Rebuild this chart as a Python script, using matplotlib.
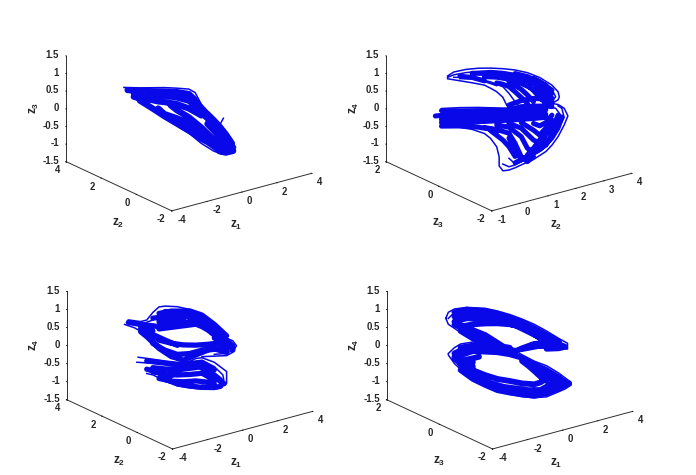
import matplotlib
matplotlib.use('Agg')
import matplotlib.pyplot as plt
from mpl_toolkits.mplot3d import proj3d

plt.rcParams['font.family'] = ['Liberation Sans', 'DejaVu Sans']
plt.rcParams['axes.unicode_minus'] = False
plt.rcParams['mathtext.fontset'] = 'custom'
plt.rcParams['mathtext.rm'] = 'Liberation Sans'
plt.rcParams['mathtext.bf'] = 'Liberation Sans:bold'

n = float('nan')
BLUE = '#0808e8'
DARK = '#303030'
TEXT = '#262626'

z_ticks = [-1.5, -1, -0.5, 0, 0.5, 1, 1.5]
z_labels = ['-1.5', '-1', '-0.5', '0', '0.5', '1', '1.5']

# panel 1: z1, z2, z3 - single strands
p1_thin_x = [-2.12, -1.6, -.8, -.4, 0, .2, .4, .6, .8, 1, 1.2, 1.4, 1.52, 1.44, 1.2, 1, .8, .4, 0, -.4, -.8, -1.2, -1.6, -1.8, n,
             1, 1.2, 1.4, 1.44, 1.2, 1, .8, n,
             1.12, 1, .8]
p1_thin_y = [2.59, 2.2, 1.6, 1.3, 1, .85, .7, .55, .4, .25, .1, -.05, -.14, -.08, .1, .25, .4, .7, 1, 1.3, 1.6, 1.9, 2.2, 2.35, n,
             .25, .1, -.05, -.08, .1, .25, .4, n,
             .16, .25, .4]
p1_thin_z = [.68, .69, .73, .73, .72, .63, .31, .13, -.05, -.23, -.43, -.66, -.87, -1.02, -1.08, -1.06, -1.0, -.80, -.53, -.33, -.12, .08, .29, .39, n,
             -.32, -.53, -.76, -.93, -1.0, -.96, -.86, n,
             -.06, -.26, -.41]

# panel 1: dense bundles
p1_core_x = [-2, -1.6, -1.2, -.8, -.4, 0, .2, .4, .6, .8, 1, 1.2, 1.4, n,
             -1.8, -1.6, -1.2, -.8, -.4, 0, .2, .4, .6, .8, 1, 1.2, 1.4, n,
             -1.8, -1.6, -1.2, -1, -.8, -.4, 0, .4, n,
             -1.6, -1.2, -.8, -.4, 0, .2, .4, .6, .8, 1, 1.2, n,
             -1, -.8, -.4, 0, .4, .6, n,
             -.6, -.4, 0, .4, .6, .8, 1, 1.2, n,
             .6, .8, 1, 1.2, n,
             .6, .8, 1, 1.2, 1.4, n,
             1, 1.2, 1.4, 1.44, 1.2, 1]
p1_core_y = [2.5, 2.2, 1.9, 1.6, 1.3, 1, .85, .7, .55, .4, .25, .1, -.05, n,
             2.35, 2.2, 1.9, 1.6, 1.3, 1, .85, .7, .55, .4, .25, .1, -.05, n,
             2.35, 2.2, 1.9, 1.75, 1.6, 1.3, 1, .7, n,
             2.2, 1.9, 1.6, 1.3, 1, .85, .7, .55, .4, .25, .1, n,
             1.75, 1.6, 1.3, 1, .7, .55, n,
             1.45, 1.3, 1, .7, .55, .4, .25, .1, n,
             .55, .4, .25, .1, n,
             .55, .4, .25, .1, -.05, n,
             .25, .1, -.05, -.08, .1, .25]
p1_core_z = [.61, .61, .61, .62, .62, .58, .42, .19, .01, -.18, -.38, -.60, -.83, n,
             .54, .51, .50, .50, .47, .39, .25, .07, -.08, -.29, -.51, -.72, -.93, n,
             .43, .40, .36, .33, .32, .28, .17, -.01, n,
             .33, .13, -.08, -.27, -.46, -.56, -.67, -.75, -.86, -.98, -1.01, n,
             .13, -.02, -.12, -.25, -.52, -.68, n,
             .24, .11, -.08, -.35, -.51, -.67, -.82, -.94, n,
             -.24, -.41, -.59, -.81, n,
             .04, -.12, -.30, -.51, -.76, n,
             -.75, -.85, -.95, -.97, -1.03, -1.0]

# panel 2: z2, z3, z4 - single strands
p2_thin_x = [.25, .375, .625, .875, 1.125, 1.375, 1.625, 1.875, 2.125, 2.375, 2.5, 2.525, 2.5, 2.375, 2.25, n,
             .25, .375, .625, .875, 1.125, 1.375, 1.625, 1.875, 2.125, 2.375, 2.45, 2.375, 2.25, n,
             .25, .5, .75, 1, 1.125, 1.25, 1.375, 1.45, 1.5, n,
             .375, .625, .875, 1.125, 1.375, 1.5, 1.625, 1.75, n,
             .125, .5, .875, 1.25, 1.5, n,
             .125, .5, .75, 1, 1.125, 1.25, 1.3, 1.3, 1.03, 1.15, 1.625, 1.75, 2, 2.25, 2.375, 2.5, 2.625, 2.7, 2.625, 2.5, 2.375, n,
             1.375, 1.5, 1.625, 1.875, 2.125, 2.25, 2.375, 2.5, 2.625, 2.575, 2.5, n,
             1.5, 1.625, 1.75, 2, 2.25, 2.5, 2.55, 2.45, 2.25, n,
             .5, .75, 1, 1.25]
p2_thin_y = [1, .9, .7, .5, .3, .1, -.1, -.3, -.5, -.7, -.8, -.82, -.8, -.7, -.6, n,
             1, .9, .7, .5, .3, .1, -.1, -.3, -.5, -.7, -.76, -.7, -.6, n,
             1, .8, .6, .4, .3, .2, .1, .04, 0, n,
             .9, .7, .5, .3, .1, 0, -.1, -.2, n,
             1.1, .8, .5, .2, 0, n,
             1.1, .8, .6, .4, .3, .2, .16, .16, -.27, -.37, -.1, -.2, -.4, -.6, -.7, -.8, -.9, -.96, -.9, -.8, -.7, n,
             .1, 0, -.1, -.3, -.5, -.6, -.7, -.8, -.9, -.86, -.8, n,
             0, -.1, -.2, -.4, -.6, -.8, -.84, -.76, -.6, n,
             .8, .6, .4, .2]
p2_thin_z = [1.01, 1.13, 1.22, 1.27, 1.29, 1.29, 1.27, 1.21, 1.09, .89, .71, .57, .48, .37, .31, n,
             .97, 1.05, 1.13, 1.18, 1.22, 1.21, 1.17, 1.10, .96, .75, .57, .42, .35, n,
             .93, .89, .85, .80, .72, .63, .48, .27, .17, n,
             .98, .99, .97, .90, .78, .60, .37, .19, n,
             .08, .13, .16, .17, .17, n,
             -.43, -.43, -.47, -.57, -.70, -.93, -1.21, -1.47, -1.40, -1.37, -1.50, -1.41, -1.24, -1.0, -.81, -.56, -.22, .04, .25, .35, .37, n,
             -1.41, -1.48, -1.42, -1.22, -1.01, -.86, -.66, -.37, -.01, .25, .31, n,
             -1.24, -1.39, -1.32, -1.11, -.72, -.18, .06, .24, .27, n,
             .95, .96, .90, .80]

# panel 2: dense bundles
p2_core_x = [1, 1.25, 1.5, 1.75, 2, 2.25, 2.375, n,
             .75, 1, 1.25, 1.5, 1.75, 2, 2.25, 2.375, n,
             1.25, 1.375, 1.5, 1.625, 1.75, 1.875, n,
             1.5, 1.75, 1.875, 2, n,
             1.625, 1.875, 2, 2.125, 2.25, n,
             1.875, 2.125, 2.25, 2.375, n,
             2, 2.25, 2.375, n,
             .5, .75, 1, n,
             .125, .5, 1, 1.5, 1.75, 2, 2.25, 2.375, n,
             0, .25, .5, 1, 1.5, 1.75, 2, 2.25, n,
             .125, .5, 1, 1.5, 1.75, 2, 2.25, n,
             .125, .5, 1, 1.5, 1.75, 2, 2.25, n,
             .125, .5, .875, 1.125, 1.25, n,
             1.5, 1.75, 2, 2.25, n,
             1, 1.25, 1.5, 1.625, 1.75, 1.875, 2, n,
             1.25, 1.5, 1.75, 1.875, 2, 2.125, 2.25, n,
             1.5, 1.75, 2, 2.125, 2.25, 2.375, n,
             1.75, 2, 2.125, 2.25, 2.375, n,
             2, 2.125, 2.25, 2.375, n,
             1.125, 1.375, 1.5, 1.625, n,
             1.5, 1.625, 1.75, n,
             1.875, 2, 2.125, 2.25, 2.375, n,
             2.125, 2.25, 2.375, 2.5, n,
             2.375, 2.5, n,
             1.625, 1.875, 2.125, 2.375, n,
             1.625, 1.875, 2.125, 2.25, 2.375, 2.5, 2.575]
p2_core_y = [.4, .2, 0, -.2, -.4, -.6, -.7, n,
             .6, .4, .2, 0, -.2, -.4, -.6, -.7, n,
             .2, .1, 0, -.1, -.2, -.3, n,
             0, -.2, -.3, -.4, n,
             -.1, -.3, -.4, -.5, -.6, n,
             -.3, -.5, -.6, -.7, n,
             -.4, -.6, -.7, n,
             .8, .6, .4, n,
             1.1, .8, .4, 0, -.2, -.4, -.6, -.7, n,
             1.2, 1, .8, .4, 0, -.2, -.4, -.6, n,
             1.1, .8, .4, 0, -.2, -.4, -.6, n,
             1.1, .8, .4, 0, -.2, -.4, -.6, n,
             1.1, .8, .5, .3, .2, n,
             0, -.2, -.4, -.6, n,
             .4, .2, 0, -.1, -.2, -.3, -.4, n,
             .2, 0, -.2, -.3, -.4, -.5, -.6, n,
             0, -.2, -.4, -.5, -.6, -.7, n,
             -.2, -.4, -.5, -.6, -.7, n,
             -.4, -.5, -.6, -.7, n,
             .3, .1, 0, -.1, n,
             0, -.1, -.2, n,
             -.3, -.4, -.5, -.6, -.7, n,
             -.5, -.6, -.7, -.8, n,
             -.7, -.8, n,
             -.1, -.3, -.5, -.7, n,
             -.1, -.3, -.5, -.6, -.7, -.8, -.86]
p2_core_z = [1.04, 1.04, 1.0, .90, .75, .54, .39, n,
             1.12, 1.13, 1.15, 1.13, 1.04, .92, .70, .52, n,
             .88, .85, .79, .65, .50, .34, n,
             .93, .73, .58, .40, n,
             1.06, .86, .71, .53, .37, n,
             1.02, .83, .65, .45, n,
             1.06, .88, .66, n,
             1.02, 1.0, .92, n,
             .02, .04, .08, .13, .24, .27, .29, .28, n,
             -.14, -.09, -.07, -.02, .03, .10, .14, .18, n,
             -.23, -.18, -.11, -.06, -.03, .02, .06, n,
             -.32, -.29, -.23, -.16, -.12, -.08, -.03, n,
             -.42, -.39, -.40, -.44, -.50, n,
             .27, .41, .49, .48, n,
             -.40, -.44, -.53, -.81, -1.18, -1.31, -1.16, n,
             -.31, -.36, -.61, -.93, -1.05, -.92, -.67, n,
             -.25, -.37, -.69, -.77, -.53, -.29, n,
             -.21, -.41, -.54, -.34, -.10, n,
             -.22, -.28, -.18, .04, n,
             -.48, -.73, -.91, -1.18, n,
             -.67, -1.0, -1.25, n,
             -1.12, -.92, -.68, -.44, -.19, n,
             -.94, -.81, -.52, -.14, n,
             -.38, .05, n,
             1.17, 1.10, .96, .75, n,
             -1.36, -1.16, -.95, -.80, -.60, -.31, .0]

# panel 3: z1, z2, z4 - single strands
p3_thin_x = [-2, -1.6, -1.4, -1.2, -1, -.8, -.4, 0, .4, .8, 1.2, 1.4, 1.52, 1.4, 1.2, .8, .4, n,
             -2.12, -1.8, -1.4, -1, -.6, -.4, n,
             -2, -1.6, -1.2, -.8, -.4, 0, .4, .8, 1.2, 1.4, 1.2, .8, n,
             -1.68, -1.4, -.8, -.4, 0, .2, .4, .8, 1.2, 1.2, 1, .8, .4, 0, -.4, -.8, -1.2, -1.4, n,
             -1.72, -1.2, -.8, -.4, 0, .4, .8, 1.08, 1.12, 1, .8, .4]
p3_thin_y = [2.5, 2.2, 2.05, 1.9, 1.75, 1.6, 1.3, 1, .7, .4, .1, -.05, -.14, -.05, .1, .4, .7, n,
             2.59, 2.35, 2.05, 1.75, 1.45, 1.3, n,
             2.5, 2.2, 1.9, 1.6, 1.3, 1, .7, .4, .1, -.05, .1, .4, n,
             2.26, 2.05, 1.6, 1.3, 1, .85, .7, .4, .1, .1, .25, .4, .7, 1, 1.3, 1.6, 1.9, 2.05, n,
             2.29, 1.9, 1.6, 1.3, 1, .7, .4, .19, .16, .25, .4, .7]
p3_thin_z = [.79, .76, .81, 1.03, 1.19, 1.22, 1.22, 1.16, .98, .72, .41, .35, .22, .03, -.07, -.10, -.13, n,
             .66, .58, .41, .15, -.13, -.26, n,
             .70, .68, .82, 1.07, 1.08, 1.05, .84, .58, .27, .09, -.01, -.05, n,
             -.23, -.25, -.30, -.32, -.27, -.19, -.16, -.27, -.51, -.84, -.97, -1.01, -1.03, -1.01, -.97, -.85, -.70, -.67, n,
             -.37, -.38, -.39, -.35, -.29, -.23, -.39, -.61, -.81, -.89, -.93, -.92]

# panel 3: dense bundles
p3_core_x = [-2, -1.6, -1.2, -1, -.8, -.4, 0, .4, .8, 1.2, 1.4, n,
             -1.2, -.8, -.4, 0, .4, .8, 1.2, 1.4, n,
             -1, -.6, 0, .4, .8, 1.2, n,
             -1, -.6, -.2, .2, .4, .6, 1, 1.2, n,
             -1, -.6, -.2, n,
             -1.2, -1, -.6, -.2, .2, .6, .8, 1, 1.2, n,
             -1.6, -1.2, n,
             -1.6, -1.4, -1, -.6, -.2, .2, .6, 1, n,
             -1.2, -.8, -.4, 0, .4, .8, 1.2, n,
             -1.4, -.8, -.4, 0, .4, .8, n,
             -1.2, -.8, -.4, 0, .4, .8, 1, n,
             -1.2, -.8, -.4, 0, .4, .8, n,
             -1, -.6, -.2, .2, .6, .8, n,
             -.8, -.4, 0, .4, .8, 1.2, 1.4, n,
             .4, .8, 1, 1.12, n,
             1, .8, .4, 0, -.4, -.8, n,
             -1.4, -1, -.6, n,
             -1.4, -1.2, -.8, -.4, n,
             .8, 1.2, 1.4]
p3_core_y = [2.5, 2.2, 1.9, 1.75, 1.6, 1.3, 1, .7, .4, .1, -.05, n,
             1.9, 1.6, 1.3, 1, .7, .4, .1, -.05, n,
             1.75, 1.45, 1, .7, .4, .1, n,
             1.75, 1.45, 1.15, .85, .7, .55, .25, .1, n,
             1.75, 1.45, 1.15, n,
             1.9, 1.75, 1.45, 1.15, .85, .55, .4, .25, .1, n,
             2.2, 1.9, n,
             2.2, 2.05, 1.75, 1.45, 1.15, .85, .55, .25, n,
             1.9, 1.6, 1.3, 1, .7, .4, .1, n,
             2.05, 1.6, 1.3, 1, .7, .4, n,
             1.9, 1.6, 1.3, 1, .7, .4, .25, n,
             1.9, 1.6, 1.3, 1, .7, .4, n,
             1.75, 1.45, 1.15, .85, .55, .4, n,
             1.6, 1.3, 1, .7, .4, .1, -.05, n,
             .7, .4, .25, .16, n,
             .25, .4, .7, 1, 1.3, 1.6, n,
             2.05, 1.75, 1.45, n,
             2.05, 1.9, 1.6, 1.3, n,
             .4, .1, -.05]
p3_core_z = [.72, .68, .66, .64, .70, .76, .82, .75, .53, .22, .12, n,
             .87, .93, .97, .96, .88, .67, .36, .21, n,
             1.01, 1.09, 1.12, 1.02, .78, .48, n,
             .58, .64, .70, .76, .70, .61, .35, .18, n,
             .78, .84, .91, n,
             .39, .27, .20, .17, .18, .22, .25, .26, .09, n,
             .57, .52, n,
             .48, .35, .04, -.17, -.25, -.09, .06, .12, n,
             .17, .00, -.10, -.06, .05, .10, .02, n,
             -.32, -.36, -.39, -.36, -.29, -.48, n,
             -.50, -.52, -.53, -.47, -.41, -.62, -.75, n,
             -.61, -.67, -.67, -.64, -.59, -.76, n,
             -.79, -.85, -.85, -.81, -.83, -.86, n,
             1.07, 1.08, 1.05, .84, .58, .27, .09, n,
             -.45, -.65, -.8, -.85, n,
             -.93, -.97, -.98, -.96, -.92, -.80, n,
             -.55, -.63, -.7, n,
             .50, .42, .28, .15, n,
             .40, .30, .15]

# panel 4: z1, z3, z4 - single strands
p4_thin_x = [-2.08, -2, -1.8, -1.4, -.8, -.4, 0, .4, .8, 1.2, 1.6, 1.88, 1.88, 1.6, 1.2, .8, .4, 0, -.4, -.8, -1.2, -1.6, -2, -2.08, n,
             -2, -1.8, -1.4, -.8, -.4, 0, .4, .8, 1.2, 1.6, 1.8, 1.6, 1.2, n,
             -2, -1.8, -1.6, -1.2, -.8, -.4, n,
             -2, -1.8, -1.4, -1, -.6, 0, .4, .8, 1.2, 1.4, 1.8, 2, 2, 1.6, 1.2, .8, .4, .2, n,
             -1.6, -1.2, -.8, -.4, 0, .4, .8, 1.2, 1.6, 1.8, 1.6, 1.2, .8]
p4_thin_y = [1.04, 1, .9, .7, .4, .2, 0, -.2, -.4, -.6, -.8, -.94, -.94, -.8, -.6, -.4, -.2, 0, .2, .4, .6, .8, 1, 1.04, n,
             1, .9, .7, .4, .2, 0, -.2, -.4, -.6, -.8, -.9, -.8, -.6, n,
             1, .9, .8, .6, .4, .2, n,
             1, .9, .7, .5, .3, 0, -.2, -.4, -.6, -.7, -.9, -1, -1, -.8, -.6, -.4, -.2, -.1, n,
             .8, .6, .4, .2, 0, -.2, -.4, -.6, -.8, -.9, -.8, -.6, -.4]
p4_thin_z = [.83, 1.00, 1.10, 1.16, 1.16, 1.10, 1.02, .91, .78, .61, .42, .30, .14, .13, .18, .16, .08, -.03, -.02, .10, .27, .46, .67, .83, n,
             .83, 1.01, 1.10, 1.08, 1.03, .93, .82, .67, .50, .33, .23, .19, .24, n,
             -.14, .03, .14, .21, .21, .11, n,
             -.18, -.41, -.71, -.93, -1.07, -1.19, -1.24, -1.25, -1.21, -1.13, -.97, -.85, -.78, -.54, -.35, -.24, -.08, .02, n,
             -.58, -.81, -.96, -1.09, -1.14, -1.17, -1.20, -1.11, -.96, -.84, -.66, -.47, -.33]

# panel 4: dense bundles
p4_core_x = [-1.8, -1.4, -1, -.6, -.2, .2, .6, 1, 1.4, 1.6, 1.4, 1, n,
             -1.8, -1.4, -1, -.6, -.2, .2, .6, 1, 1.2, 1.4, n,
             -1.6, -1.2, -.8, -.4, 0, .4, .8, 1, 1.2, 1, .8, .4, n,
             -1.8, -1.4, -1.2, -.8, -.4, 0, .2, .4, .8, 1, n,
             -1.6, -1.2, -.8, -.6, -.4, -.2, 0, n,
             -1.8, -1.4, -1, -.6, -.2, n,
             -1.6, -1.2, -.8, -.4, 0, .4, .8, 1.2, 1.4, 1.6, n,
             -1.6, -1.2, -1, n,
             .4, .6, .8, 1, 1.2, n,
             -1.4, -1.2, n,
             -1.6, -1.2, -.8, -.4, 0, .4, .8, 1, 1.2, n,
             -1.4, -1, -.6, -.2, .2, .6, 1, 1.2, 1.4, 1.6, n,
             1.2, 1.4, 1.6, n,
             -1.8, -1.4, n,
             -1.8, -1.4, -.8, -.4, 0, .4, .8, 1.2, 1.6, n,
             1.2, 1.6, 1.8, 1.6, 1.2, n,
             -1.6, -1.2, -.8, -.4, 0, n,
             -1.6, -1.2, -.8, -.4, 0, .4, .8, 1.2, 1.6, 1.8, 1.6, 1.2, .8, n,
             -1.8, -1.6, -1.4, -1.2, n,
             -1.6, -1.2, -.8, n,
             1.4, 1.8, 1.92, n,
             .8, 1.2, 1.6, 1.8]
p4_core_y = [.9, .7, .5, .3, .1, -.1, -.3, -.5, -.7, -.8, -.7, -.5, n,
             .9, .7, .5, .3, .1, -.1, -.3, -.5, -.6, -.7, n,
             .8, .6, .4, .2, 0, -.2, -.4, -.5, -.6, -.5, -.4, -.2, n,
             .9, .7, .6, .4, .2, 0, -.1, -.2, -.4, -.5, n,
             .8, .6, .4, .3, .2, .1, 0, n,
             .9, .7, .5, .3, .1, n,
             .8, .6, .4, .2, 0, -.2, -.4, -.6, -.7, -.8, n,
             .8, .6, .5, n,
             -.2, -.3, -.4, -.5, -.6, n,
             .7, .6, n,
             .8, .6, .4, .2, 0, -.2, -.4, -.5, -.6, n,
             .7, .5, .3, .1, -.1, -.3, -.5, -.6, -.7, -.8, n,
             -.6, -.7, -.8, n,
             .9, .7, n,
             .9, .7, .4, .2, 0, -.2, -.4, -.6, -.8, n,
             -.6, -.8, -.9, -.8, -.6, n,
             .8, .6, .4, .2, 0, n,
             .8, .6, .4, .2, 0, -.2, -.4, -.6, -.8, -.9, -.8, -.6, -.4, n,
             .9, .8, .7, .6, n,
             .8, .6, .4, n,
             -.7, -.9, -.96, n,
             -.4, -.6, -.8, -.9]
p4_core_z = [.89, 1.00, 1.01, .98, .91, .80, .68, .54, .39, .29, .21, .19, n,
             .75, .86, .87, .84, .80, .72, .57, .42, .32, .27, n,
             .62, .70, .74, .76, .75, .70, .50, .40, .27, .20, .16, .08, n,
             .67, .53, .40, .24, .11, .04, .02, .10, .24, .26, n,
             .66, .54, .42, .32, .22, .12, .10, n,
             -.13, .05, .09, .08, .03, n,
             -.17, -.04, -.04, -.04, -.08, -.16, -.35, -.61, -.74, -.82, n,
             -.33, -.24, -.19, n,
             -.25, -.37, -.51, -.66, -.77, n,
             -.48, -.35, n,
             -.44, -.57, -.69, -.78, -.82, -.87, -.88, -.82, -.70, n,
             -.62, -.79, -.91, -.99, -1.02, -1.05, -1.03, -.93, -.83, -.73, n,
             -1.02, -.95, -.85, n,
             -.27, -.53, n,
             1.01, 1.10, 1.08, 1.03, .93, .82, .67, .50, .33, n,
             .36, .26, .20, .15, .12, n,
             .50, .31, .14, .03, .0, n,
             -.58, -.81, -.96, -1.09, -1.14, -1.17, -1.20, -1.11, -.96, -.84, -.66, -.47, -.33, n,
             -.22, -.35, -.44, -.47, n,
             .04, .11, .10, n,
             -1.01, -.86, -.80, n,
             -.48, -.59, -.68, -.77]


def put(ax, x, y, z, text, dx, dy, **kw):
    # text placed at a 3D position, with an offset in pixels
    x2, y2, _ = proj3d.proj_transform(x, y, z, ax.get_proj())
    ax.annotate(text, (x2, y2), xytext=(dx * 0.72, -dy * 0.72), textcoords='offset points',
                ha=kw.pop('ha', 'center'), va='center', color=TEXT, annotation_clip=False, **kw)


def panel(left, bottom, size, z_len, thin, core, lw, x_ticks, y_ticks, names):
    ax = fig.add_axes([left / 696, bottom / 475, size / 696, size / 475], projection='3d', proj_type='ortho')
    ax.patch.set_alpha(0)
    ax.plot(core[0], core[1], core[2], color=BLUE, lw=lw, solid_capstyle='round', solid_joinstyle='round')
    ax.plot(thin[0], thin[1], thin[2], color=BLUE, lw=1.1, solid_joinstyle='round')
    ax.set_xlim(x_ticks[0], x_ticks[-1])
    ax.set_ylim(y_ticks[0], y_ticks[-1])
    ax.set_zlim(-1.5, 1.5)
    ax.view_init(elev=20.7, azim=-127.2)
    ax.set_box_aspect((175.8, 174.7, z_len))
    ax.set_xticks(x_ticks)
    ax.set_xticklabels([''] * len(x_ticks))
    ax.set_yticks(y_ticks)
    ax.set_yticklabels([''] * len(y_ticks))
    ax.set_zticks(z_ticks)
    ax.set_zticklabels([''] * len(z_ticks))
    ax.grid(False)
    for axis in (ax.xaxis, ax.yaxis, ax.zaxis):
        axis.set_pane_color((1, 1, 1, 0))
        axis.pane.set_edgecolor((1, 1, 1, 0))
        axis.line.set_color(DARK)
        axis.line.set_linewidth(0.7)
        axis._axinfo['tick']['inward_factor'] = 0.035
        axis._axinfo['tick']['outward_factor'] = 0.0
        axis._axinfo['tick']['linewidth'] = {True: 0.6, False: 0.5}
        axis._axinfo['tick']['color'] = DARK

    x0, x1 = x_ticks[0], x_ticks[-1]
    y0, y1 = y_ticks[0], y_ticks[-1]
    for t in x_ticks:
        put(ax, t, y0, -1.5, str(t), 10 if t < 0 else 8, 9, fontsize=6.9, fontweight='bold')
    for t in y_ticks:
        put(ax, x0, t, -1.5, str(t), -11 if t < 0 else -9, 8.5, fontsize=6.9, fontweight='bold')
    for t, lab in zip(z_ticks, z_labels):
        put(ax, x0, y1, t, lab, -7, -0.7, ha='right', fontsize=6.9, fontweight='bold')
    put(ax, (x0 + x1) / 2, y0, -1.5, names[0], -6, 33.5, fontsize=8.5)
    put(ax, x0, (y0 + y1) / 2, -1.5, names[1], -1, 37.5, fontsize=8.5)
    put(ax, x0, y1, 0, names[2], -32, -1, fontsize=8.5, rotation=90)
    return ax


fig = plt.figure(figsize=(6.96, 4.75), dpi=100)

panel(53.2, 224.7, 264.4, 113.3, (p1_thin_x, p1_thin_y, p1_thin_z), (p1_core_x, p1_core_y, p1_core_z), 4.5,
      [-4, -2, 0, 2, 4], [-2, 0, 2, 4], [r'$\mathbf{z_1}$', r'$\mathbf{z_2}$', r'$\mathbf{z_3}$'])
panel(373.2, 224.7, 264.4, 113.3, (p2_thin_x, p2_thin_y, p2_thin_z), (p2_core_x, p2_core_y, p2_core_z), 3.6,
      [-1, 0, 1, 2, 3, 4], [-2, 0, 2], [r'$\mathbf{z_2}$', r'$\mathbf{z_3}$', r'$\mathbf{z_4}$'])
panel(53.3, -12.8, 265.7, 115.8, (p3_thin_x, p3_thin_y, p3_thin_z), (p3_core_x, p3_core_y, p3_core_z), 3.8,
      [-4, -2, 0, 2, 4], [-2, 0, 2, 4], [r'$\mathbf{z_1}$', r'$\mathbf{z_2}$', r'$\mathbf{z_4}$'])
panel(373.3, -12.8, 265.7, 115.8, (p4_thin_x, p4_thin_y, p4_thin_z), (p4_core_x, p4_core_y, p4_core_z), 4.2,
      [-4, -2, 0, 2, 4], [-2, 0, 2], [r'$\mathbf{z_1}$', r'$\mathbf{z_3}$', r'$\mathbf{z_4}$'])

fig.savefig('out.png', dpi=100)
